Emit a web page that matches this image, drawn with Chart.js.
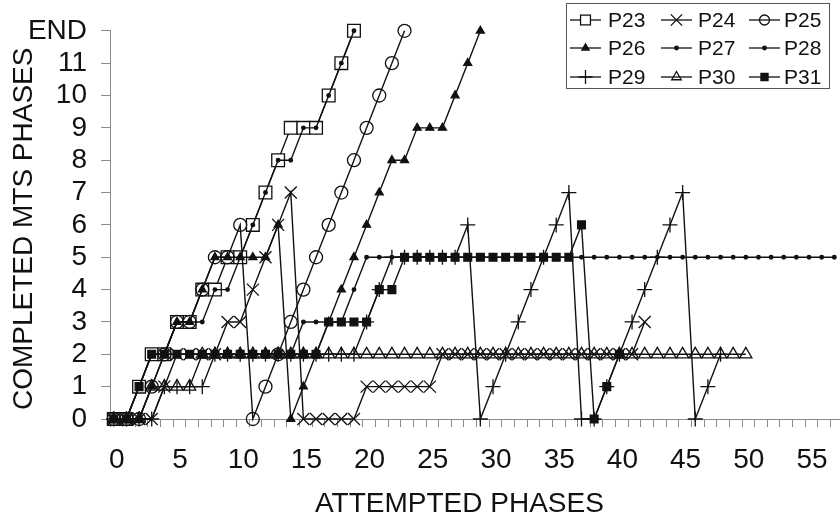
<!DOCTYPE html>
<html>
<head>
<meta charset="utf-8">
<script src="https://cdn.jsdelivr.net/npm/chart.js@4.4.1/dist/chart.umd.min.js"></script>
<style>
html,body{margin:0;padding:0;background:#fff;}
#wrap{width:840px;height:523px;position:relative;}
</style>
</head>
<body>
<div id="wrap"><canvas id="c" width="840" height="523"></canvas></div>
<script>
// ---- data (index = attempted phase, value = completed MTS phases; 12 = END) ----
const seriesNames = ['P23','P24','P25','P26','P27','P28','P29','P30','P31'];
const xTickLabels = [0,5,10,15,20,25,30,35,40,45,50,55];
const yTickLabels = ['0','1','2','3','4','5','6','7','8','9','10','11','END'];

const P23 = [0,0,1,2,2,3,3,4,4,5,5,6,7,8,9,9,9,10,11,12];
const P24 = [0,0,0,0,1,2,2,2,2,3,3,4,5,6,7,0,0,0,0,0,1,1,1,1,1,1,
             2,2,2,2,2,2,2,2,2,2,2,2,2,2,2,2,3];
const P25 = [0,0,0,1,2,3,3,4,5,5,6,0,1,2,3,4,5,6,7,8,9,10,11,12];
const P26 = [0,0,0,1,2,3,3,4,5,5,5,5,5,6,0,1,2,3,4,5,6,7,8,8,9,9,9,10,11,12];
const P27 = [0,0,1,2,2,3,3,3,4,4,5,6,7,8,8,9,9,10,11,12];
const P28 = [0,0,1,2,2,2,2,2,2,2,2,2,2,2,2,3,3,3,3,4,5,
             5,5,5,5,5,5,5,5,5,5,5,5,5,5,5,5,5,5,5,5,5,5,5,5,5,5,5,5,5,5,5,5,5,5,5,5,5];
const P29 = [0,0,0,0,1,1,1,1,2,2,2,2,2,2,2,2,2,2,2,2,3,4,5,5,5,5,5,5,6,
             0,1,2,3,4,5,6,7,0,0,1,2,3,4,5,6,7,0,1,2];
const P30 = [0,0,0,1,1,1,1,
             2,2,2,2,2,2,2,2,2,2,2,2,2,2,2,2,2,2,2,2,2,2,2,2,2,2,2,2,2,2,2,2,2,2,2,2,2,2,2,2,2,2,2,2];
const P31 = [0,0,1,2,2,2,2,2,2,2,2,2,2,2,2,2,2,3,3,3,3,4,4,5,5,5,5,5,5,5,5,5,5,5,5,5,5,6,0,1,2];

const seriesValues = [P23,P24,P25,P26,P27,P28,P29,P30,P31];

// ---- styles ----
const INK = '#111';
const AXIS = '#8a8a8a';
const FONT = '"Liberation Sans", Arial, Helvetica, sans-serif';
const styles = [
  {pointStyle:'rect',     radius:9,   bg:'#fff',            order:9},
  {pointStyle:'crossRot', radius:8.5, bg:'rgba(0,0,0,0)',   order:6},
  {pointStyle:'circle',   radius:6.5, bg:'rgba(0,0,0,0)',   order:8},
  {pointStyle:'triangle', radius:4.6, bg:INK,               order:4},
  {pointStyle:'circle',   radius:1.8, bg:INK,               order:2},
  {pointStyle:'circle',   radius:1.8, bg:INK,               order:1},
  {pointStyle:'cross',    radius:7.5, bg:'rgba(0,0,0,0)',   order:5},
  {pointStyle:'triangle', radius:7,   bg:'rgba(0,0,0,0)',   order:7},
  {pointStyle:'rect',     radius:5.5, bg:INK,               order:3}
];
const legendRadius = [7, 8, 5, 4.2, 1.8, 1.8, 7, 5.5, 5];

const datasets = seriesNames.map((name, i) => ({
  label: name,
  data: seriesValues[i].map((y, x) => ({x, y})),
  borderColor: INK,
  borderWidth: 1.4,
  pointStyle: styles[i].pointStyle,
  pointRadius: styles[i].radius,
  pointHoverRadius: styles[i].radius,
  pointBackgroundColor: styles[i].bg,
  pointBorderColor: INK,
  pointBorderWidth: 1.3,
  fill: false,
  tension: 0,
  clip: false,
  order: styles[i].order
}));

// ---- boxed 3x3 legend drawn inside plot ----
const boxLegend = {
  id: 'boxLegend',
  afterDraw(chart) {
    const ctx = chart.ctx;
    ctx.save();
    ctx.fillStyle = '#fff';
    ctx.fillRect(566, 3, 263, 85);
    ctx.strokeStyle = '#555';
    ctx.lineWidth = 1;
    ctx.strokeRect(566.5, 3.5, 263, 85);
    const lineStart = [570, 661, 749];
    const lineEnd   = [601, 692, 780];
    const textX     = [608, 698, 784];
    const rowY      = [20, 48, 77];
    chart.data.datasets.forEach((ds, i) => {
      const col = i % 3, row = Math.floor(i / 3);
      const y = rowY[row];
      ctx.strokeStyle = INK;
      ctx.lineWidth = 1.3;
      ctx.beginPath();
      ctx.moveTo(lineStart[col], y);
      ctx.lineTo(lineEnd[col], y);
      ctx.stroke();
      const cx = (lineStart[col] + lineEnd[col]) / 2;
      ctx.fillStyle = ds.pointBackgroundColor;
      ctx.strokeStyle = INK;
      ctx.lineWidth = 1.3;
      Chart.helpers.drawPoint(ctx, {pointStyle: ds.pointStyle, radius: legendRadius[i], rotation: 0, borderWidth: 1.3}, cx, y);
      ctx.fillStyle = INK;
      ctx.font = '21px ' + FONT;
      ctx.textAlign = 'left';
      ctx.textBaseline = 'middle';
      ctx.fillText(ds.label, textX[col], y + 1);
    });
    ctx.restore();
  }
};

new Chart(document.getElementById('c'), {
  type: 'line',
  data: {datasets},
  plugins: [boxLegend],
  options: {
    responsive: false,
    animation: false,
    events: [],
    layout: {autoPadding: false, padding: {top: 30, right: 0, left: 0, bottom: 0}},
    plugins: {legend: {display: false}, tooltip: {enabled: false}},
    scales: {
      x: {
        type: 'linear',
        min: -0.3,
        max: 57.45,
        afterBuildTicks: (s) => {
          const t = [];
          for (let k = 0; k <= 57; k++) t.push({value: Math.round((k - 0.3) * 10) / 10});
          xTickLabels.forEach(v => t.push({value: v}));
          t.sort((a, b) => a.value - b.value);
          s.ticks = t;
        },
        afterFit: (s) => { s.height = 104; },
        ticks: {
          autoSkip: false,
          maxRotation: 0,
          minRotation: 0,
          padding: 0,
          labelOffset: 3,
          color: INK,
          font: {family: FONT, size: 28, lineHeight: 2.36},
          callback: (v) => xTickLabels.includes(v) ? String(v) : ''
        },
        grid: {
          drawOnChartArea: false,
          tickLength: 8,
          color: AXIS,
          tickColor: (ctx) => (ctx.tick && Number.isInteger(ctx.tick.value)) ? 'rgba(0,0,0,0)' : AXIS
        },
        border: {color: AXIS, width: 1},
        title: {
          display: true,
          text: 'ATTEMPTED PHASES\u00a0\u00a0\u00a0\u00a0',
          color: INK,
          font: {family: FONT, size: 28},
          padding: {top: 0, bottom: 2}
        }
      },
      y: {
        type: 'linear',
        min: 0,
        max: 12,
        afterFit: (s) => { s.width = 110; },
        ticks: {
          stepSize: 1,
          autoSkip: false,
          padding: 14,
          color: INK,
          font: {family: FONT, size: 28},
          callback: (v) => yTickLabels[v]
        },
        grid: {drawOnChartArea: false, tickLength: 9, color: AXIS},
        border: {color: AXIS, width: 1},
        title: {
          display: true,
          text: 'COMPLETED MTS PHASES\u00a0',
          color: INK,
          font: {family: FONT, size: 28},
          padding: {top: 7, bottom: 0}
        }
      }
    }
  }
});
</script>
</body>
</html>
